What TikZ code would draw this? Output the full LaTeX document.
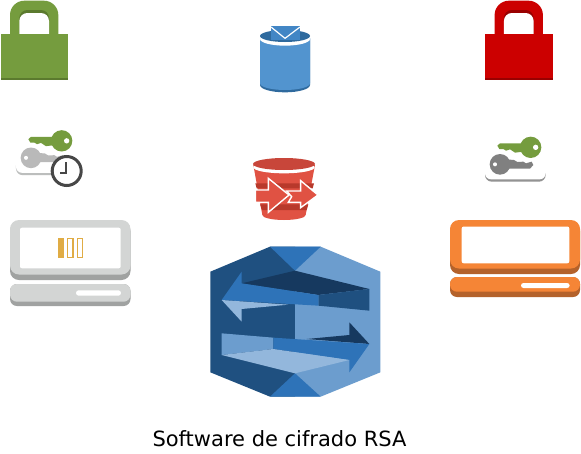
\documentclass[tikz,border=0pt]{standalone}
\usepackage{fontspec}
\setmainfont{DejaVu Sans}
\definecolor{hexdark}{HTML}{1F5080}
\definecolor{hexlight}{HTML}{6C9DCE}
\definecolor{hexmid}{HTML}{2E73B8}
\definecolor{hexnavy}{HTML}{16395F}
\definecolor{hexpale}{HTML}{93B7DC}
\definecolor{leaf}{HTML}{759C3E}
\definecolor{leafdark}{HTML}{5B7A2E}
\definecolor{lockred}{HTML}{CC0000}
\definecolor{lockreddark}{HTML}{990000}
\definecolor{lapgrey}{HTML}{D3D5D4}
\definecolor{lapgreyd}{HTML}{A0A2A1}
\definecolor{laporange}{HTML}{F58536}
\definecolor{laporanged}{HTML}{B4622B}
\definecolor{amber}{HTML}{E0AC45}
\definecolor{bucketblue}{HTML}{5294CF}
\definecolor{bucketdark}{HTML}{2F6A9E}
\definecolor{envblue}{HTML}{4286C5}
\definecolor{bucketred}{HTML}{E05243}
\definecolor{bucketreddark}{HTML}{B8392B}
\definecolor{buckettop}{HTML}{C8463A}
\newcommand{\lockicon}[3]{%
  \begin{scope}[xshift=#1pt]
    \fill[#2] (10,36) -- (10,15) arc[start angle=180,end angle=270,radius=14.3] -- (44,0.7) arc[start angle=270,end angle=360,radius=14.3] -- (58.3,36) -- cycle;
    \fill[#3] (19.3,36) -- (19.3,18) arc[start angle=180,end angle=270,radius=8] -- (41,10) arc[start angle=270,end angle=360,radius=8] -- (49,36) -- cycle;
    \fill[white] (19.3,36) -- (19.3,21) arc[start angle=180,end angle=270,radius=8] -- (41,13) arc[start angle=270,end angle=360,radius=8] -- (49,36) -- cycle;
    \fill[#2] (0.7,34) rectangle (68,77.5);
    \fill[#3] (0.7,77.5) rectangle (68,79.8);
  \end{scope}}
\newcommand{\laptopicon}[9]{%
  \fill[#5,rounded corners=9pt] (#1,#3+2) rectangle (#2,#4);
  \fill[#6,rounded corners=9pt] (#1,#3) rectangle (#2,#4-5.5);
  \fill[#5,rounded corners=7pt] (#1,#7) rectangle (#2,#8);
  \fill[#6,rounded corners=7pt] (#1,#7) rectangle (#2,#9);}
\newcommand{\keyicon}[2]{%
  \fill[#1] (135,515) -- (317,515) -- (317,525) arc[start angle=0,end angle=90,radius=20] -- (155,545) arc[start angle=90,end angle=180,radius=20] -- cycle;
  \fill[white] (130,505) -- (322,505) -- (317,520) arc[start angle=0,end angle=90,radius=18] -- (153,538) arc[start angle=90,end angle=180,radius=18] -- cycle;
  \fill[leaf] (272,442) circle[radius=32];
  \fill[leaf] (172,437) -- (180,430) -- (250,430) -- (250,455) -- (225,458) -- (210,448) -- (198,452) -- (190,447) -- (178,447) -- cycle;
  \fill[white] (287,442) circle[radius=8];
  \fill[#2] (180,493) circle[radius=31];
  \fill[#2] (200,478) -- (222,480) -- (232,486) -- (250,485) -- (258,490) -- (275,485) -- (280,495) -- (270,506) -- (200,506) -- cycle;
  \fill[white] (165,493) circle[radius=6];}
\begin{document}
\begin{tikzpicture}[x=1pt,y=-1pt]
\useasboundingbox (0,0) rectangle (581,453);
\fill[white] (0,0) rectangle (581,453);
% locks
\lockicon{0}{leaf}{leafdark}
\lockicon{484.6}{lockred}{lockreddark}
% keys
\begin{scope}[shift={(440,0)},x=1/3*1pt,y=-1/3*1pt]
  \keyicon{gray!85}{gray}
\end{scope}
\begin{scope}[shift={(-29,-6.5)},x=1/3*1pt,y=-1/3*1pt]
  \keyicon{lapgreyd!70}{gray!55}
\end{scope}
\fill[white,draw=black!72,line width=3pt] (66.7,171) circle[radius=14.5];
\draw[black!72,line width=1.6pt] (65.7,162) -- (65.7,173) -- (60,173);
% laptops
\laptopicon{10}{130.5}{220}{280}{lapgreyd}{lapgrey}{284}{306}{301.7}
\fill[white,rounded corners=2pt] (20,227.7) rectangle (120.7,268.3);
\fill[white,rounded corners=2.7pt] (76,290.3) rectangle (121,295.7);
\fill[amber] (57.7,237.7) rectangle (64,257.7);
\draw[amber,line width=1.2pt] (67.8,238.3) rectangle (73,257.1);
\draw[amber,line width=1.2pt] (77.2,238.3) rectangle (82.6,257.1);
\laptopicon{450}{580}{220}{274}{laporanged}{laporange}{277}{297}{291.7}
\fill[white,rounded corners=2pt] (461.7,226.5) rectangle (569.3,263.3);
\fill[white,rounded corners=2.5pt] (521,283) rectangle (569.6,288);
% blue bucket
\begin{scope}[shift={(240,15)},x=1/3*1pt,y=-1/3*1pt]
  \fill[bucketdark] (60,70) -- (60,210) arc[start angle=180,end angle=0,x radius=75,y radius=22] -- (210,70) -- cycle;
  \fill[bucketblue] (60,70) -- (60,205) arc[start angle=180,end angle=0,x radius=75,y radius=20] -- (210,70) -- cycle;
  \fill[white] (135,72) ellipse[x radius=75,y radius=20];
  \fill[bucketdark] (135,63) ellipse[x radius=75,y radius=18];
  \fill[envblue] (93,33) rectangle (180,76);
  \draw[white,line width=1.2pt] (93,36) -- (135,70) -- (180,36);
\end{scope}
% red bucket
\begin{scope}[shift={(240,15)},x=1/3*1pt,y=-1/3*1pt]
  \fill[bucketred] (40,450) -- (225,450) -- (197,600) arc[start angle=0,end angle=180,x radius=65,y radius=15] -- cycle;
  \fill[white] (132,457) ellipse[x radius=92,y radius=18];
  \fill[buckettop] (132,447) ellipse[x radius=93,y radius=18];
  \fill[bucketreddark] (46,505) -- (222,505) -- (218,520) -- (50,520) -- cycle;
  \fill[bucketreddark] (60,568) -- (205,568) -- (200,585) -- (66,585) -- cycle;
  \fill[bucketred,draw=white,line width=1.4pt] (140,528) -- (182,528) -- (182,497) -- (234,540) -- (182,578) -- (182,562) -- (145,562) -- (155,545) -- cycle;
  \fill[bucketred,draw=white,line width=1.4pt] (46,525) -- (85,525) -- (85,490) -- (147,540) -- (85,592) -- (85,562) -- (46,562) -- cycle;
\end{scope}
% hexagon
\begin{scope}[shift={(200,240)},x=1/3*1pt,y=-1/3*1pt]
  \fill[hexdark] (210,20) -- (285,20) -- (285,470) -- (210,470) -- (31,397) -- (31,95) -- cycle;
  \fill[hexlight] (285,20) -- (362,20) -- (541,95) -- (541,397) -- (362,470) -- (285,470) -- cycle;
  \fill[hexmid] (210,20) -- (362,20) -- (285,92) -- cycle;
  \fill[hexmid] (210,470) -- (362,470) -- (285,400) -- cycle;
  \fill[hexnavy] (125,130) -- (285,92) -- (508,147) -- (355,165) -- cycle;
  \fill[hexdark] (355,165) -- (508,147) -- (508,212) -- (355,197) -- cycle;
  \fill[hexmid] (65,180) -- (125,95) -- (125,130) -- (355,165) -- (355,197) -- cycle;
  \fill[hexpale] (65,180) -- (265,194) -- (125,207) -- (125,245) -- cycle;
  \fill[hexlight] (65,280) -- (220,293) -- (220,327) -- (65,345) -- cycle;
  \fill[hexnavy] (320,297) -- (448,285) -- (448,247) -- (508,312) -- cycle;
  \fill[hexmid] (220,293) -- (508,312) -- (448,397) -- (448,360) -- (220,327) -- cycle;
  \fill[hexpale] (65,345) -- (220,327) -- (448,360) -- (285,400) -- cycle;
\end{scope}
\node[anchor=base,font=\fontsize{21}{25}\selectfont,inner sep=0pt] (caption) at (279.5,446.5) {Software de cifrado RSA};
\end{tikzpicture}
\end{document}
